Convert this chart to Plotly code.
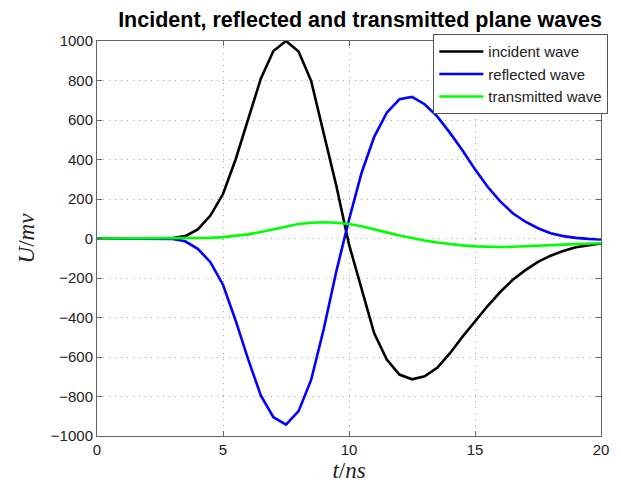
import plotly.graph_objects as go

# Sampling instants (ns)
t_ns = [i * 0.5 for i in range(41)]

# Incident wave (mV)
incident = [0, 0, 0, 0, 0, 0, 2, 12, 46, 116,
            225, 400, 603, 809, 949, 1000, 947, 797, 530, 265,
            -30, -255, -480, -613, -689, -713, -698, -655, -582, -498,
            -419, -342, -271, -209, -160, -118, -87, -63, -44, -34,
            -25]

# Reflected wave (mV)
reflected = [0, 0, 0, 0, 0, 0, -2, -14, -52, -120,
             -234, -415, -612, -795, -905, -942, -874, -715, -457, -165,
             95, 333, 515, 637, 705, 717, 680, 618, 536, 447,
             350, 262, 188, 128, 85, 52, 27, 12, 3, -2,
             -5]

# Transmitted wave (mV)
transmitted = [0, 0, 0, 0, 0, 0, 0, 0, 1, 3,
               7, 13, 21, 33, 47, 61, 73, 80, 82, 80,
               73, 62, 48, 31, 15, 2, -10, -20, -29, -35,
               -40, -42, -43, -42, -40, -37, -34, -31, -28, -26,
               -24]

series = [
    ("incident wave", incident, "#000000"),
    ("reflected wave", reflected, "#0000ff"),
    ("transmitted wave", transmitted, "#00ff00"),
]

fig = go.Figure()
for name, vals, color in series:
    fig.add_trace(go.Scatter(x=t_ns, y=vals, mode="lines", name=name,
                             line=dict(color=color, width=2.6)))

axis_common = dict(
    showline=True, linecolor="#666666", linewidth=1, mirror="ticks",
    ticks="inside", ticklen=5, tickcolor="#666666",
    showgrid=True, gridcolor="#a8a8a8", griddash="1px,5px", gridwidth=1,
    zeroline=False, automargin=False,
    tickfont=dict(family="Liberation Sans, Arial, sans-serif", size=15, color="#222222"),
)

fig.update_layout(
    width=621, height=485,
    margin=dict(l=97, r=20, t=41, b=49),
    paper_bgcolor="white", plot_bgcolor="white",
    title=dict(text="<b>Incident, reflected and transmitted plane waves</b>",
               x=0.522, xanchor="center", xref="paper", y=0.96, yanchor="middle",
               font=dict(family="Liberation Sans, Arial, sans-serif", size=21.5, color="#000000")),
    xaxis=dict(range=[0, 20], dtick=5, tick0=0,
               title=dict(text="<i>t</i>/<i>ns</i>", standoff=2,
                          font=dict(family="Liberation Serif, serif", size=23, color="#222222")),
               **axis_common),
    yaxis=dict(range=[-1000, 1000], dtick=200, tick0=0,
               title=dict(text="<i>U</i>/<i>mv</i>", standoff=9,
                          font=dict(family="Liberation Serif, serif", size=23, color="#222222")),
               **axis_common),
    legend=dict(x=1.0145, y=1.017, xanchor="right", yanchor="top",
                bgcolor="white", bordercolor="#555555", borderwidth=1,
                itemwidth=44,
                font=dict(family="Liberation Sans, Arial, sans-serif", size=15, color="#222222"),
                tracegroupgap=0),
    showlegend=True,
)

fig.write_html("out.html")
